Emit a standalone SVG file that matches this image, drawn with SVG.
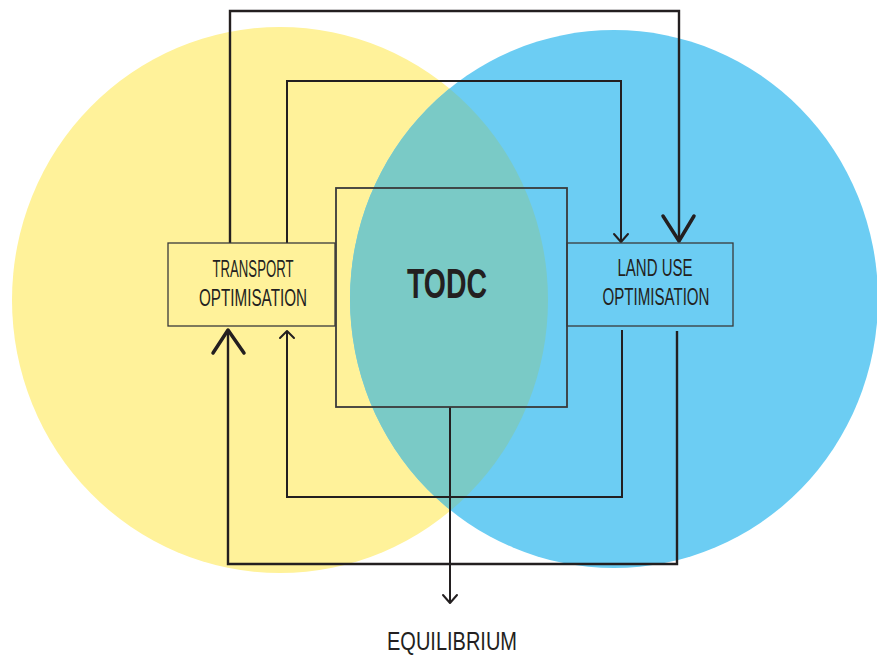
<svg xmlns="http://www.w3.org/2000/svg" width="877" height="657" viewBox="0 0 877 657">
<style>
.ln{fill:none;stroke:#231F20;stroke-width:2;stroke-linejoin:miter}
.sk{fill:none;stroke:#231F20;stroke-width:2.4}
.box{fill:none;stroke:#3a3a3a;stroke-width:1.3}
.ah{fill:none;stroke:#231F20;stroke-width:2;stroke-linecap:round;stroke-linejoin:round}
.big{fill:none;stroke:#231F20;stroke-width:3.5;stroke-linecap:round;stroke-linejoin:round}
.t{font-family:"Liberation Sans",Arial,sans-serif;fill:#231F20;text-anchor:middle}
</style>
<defs>
<clipPath id="yc"><ellipse cx="280" cy="300" rx="268" ry="273"/></clipPath>
</defs>
<rect width="877" height="657" fill="#fff"/>
<g id="circles">
<ellipse cx="280" cy="300" rx="268" ry="273" fill="#FFF29A"/>
<ellipse cx="614" cy="299" rx="264" ry="269" fill="#6CCDF3"/>
<ellipse cx="614" cy="299" rx="264" ry="269" fill="#7ACAC6" clip-path="url(#yc)"/>
</g>
<g id="connectors">
<path class="sk" d="M230 243 V11 H679 V240"/>
<path class="ln" d="M287 243 V81 H621 V241"/>
<path class="ln" d="M622 330 V497 H287 V331"/>
<path class="sk" d="M677 331 V564 H228 V330"/>
<path class="ln" d="M450 407 V602"/>
<path class="big" d="M663 216 L679 241 L694 216"/>
<path class="ah" d="M614 234 L621 242 L628 234"/>
<path class="big" d="M213 353 L228 330 L244 353"/>
<path class="ah" d="M280 338 L287 331 L294 338"/>
<path class="ah" d="M443 595 L450 603 L457 595"/>
</g>
<g id="transport">
<rect class="box" x="168" y="243" width="167" height="83"/>
<text class="t" x="253" y="277" font-size="23" textLength="81" lengthAdjust="spacingAndGlyphs">TRANSPORT</text>
<text class="t" x="253" y="306" font-size="23" textLength="108" lengthAdjust="spacingAndGlyphs">OPTIMISATION</text>
</g>
<g id="landuse">
<rect class="box" x="567" y="243" width="166" height="83"/>
<text class="t" x="655" y="276" font-size="23" textLength="75" lengthAdjust="spacingAndGlyphs">LAND USE</text>
<text class="t" x="656" y="305" font-size="23" textLength="107" lengthAdjust="spacingAndGlyphs">OPTIMISATION</text>
</g>
<g id="todc">
<rect x="336" y="188" width="231" height="219" fill="none" stroke="#3a3a3a" stroke-width="1.8"/>
<text class="t" x="447" y="298" font-size="43" font-weight="bold" textLength="80" lengthAdjust="spacingAndGlyphs">TODC</text>
</g>
<g id="equilibrium">
<text class="t" x="452" y="650" font-size="26" textLength="130" lengthAdjust="spacingAndGlyphs">EQUILIBRIUM</text>
</g>
</svg>
